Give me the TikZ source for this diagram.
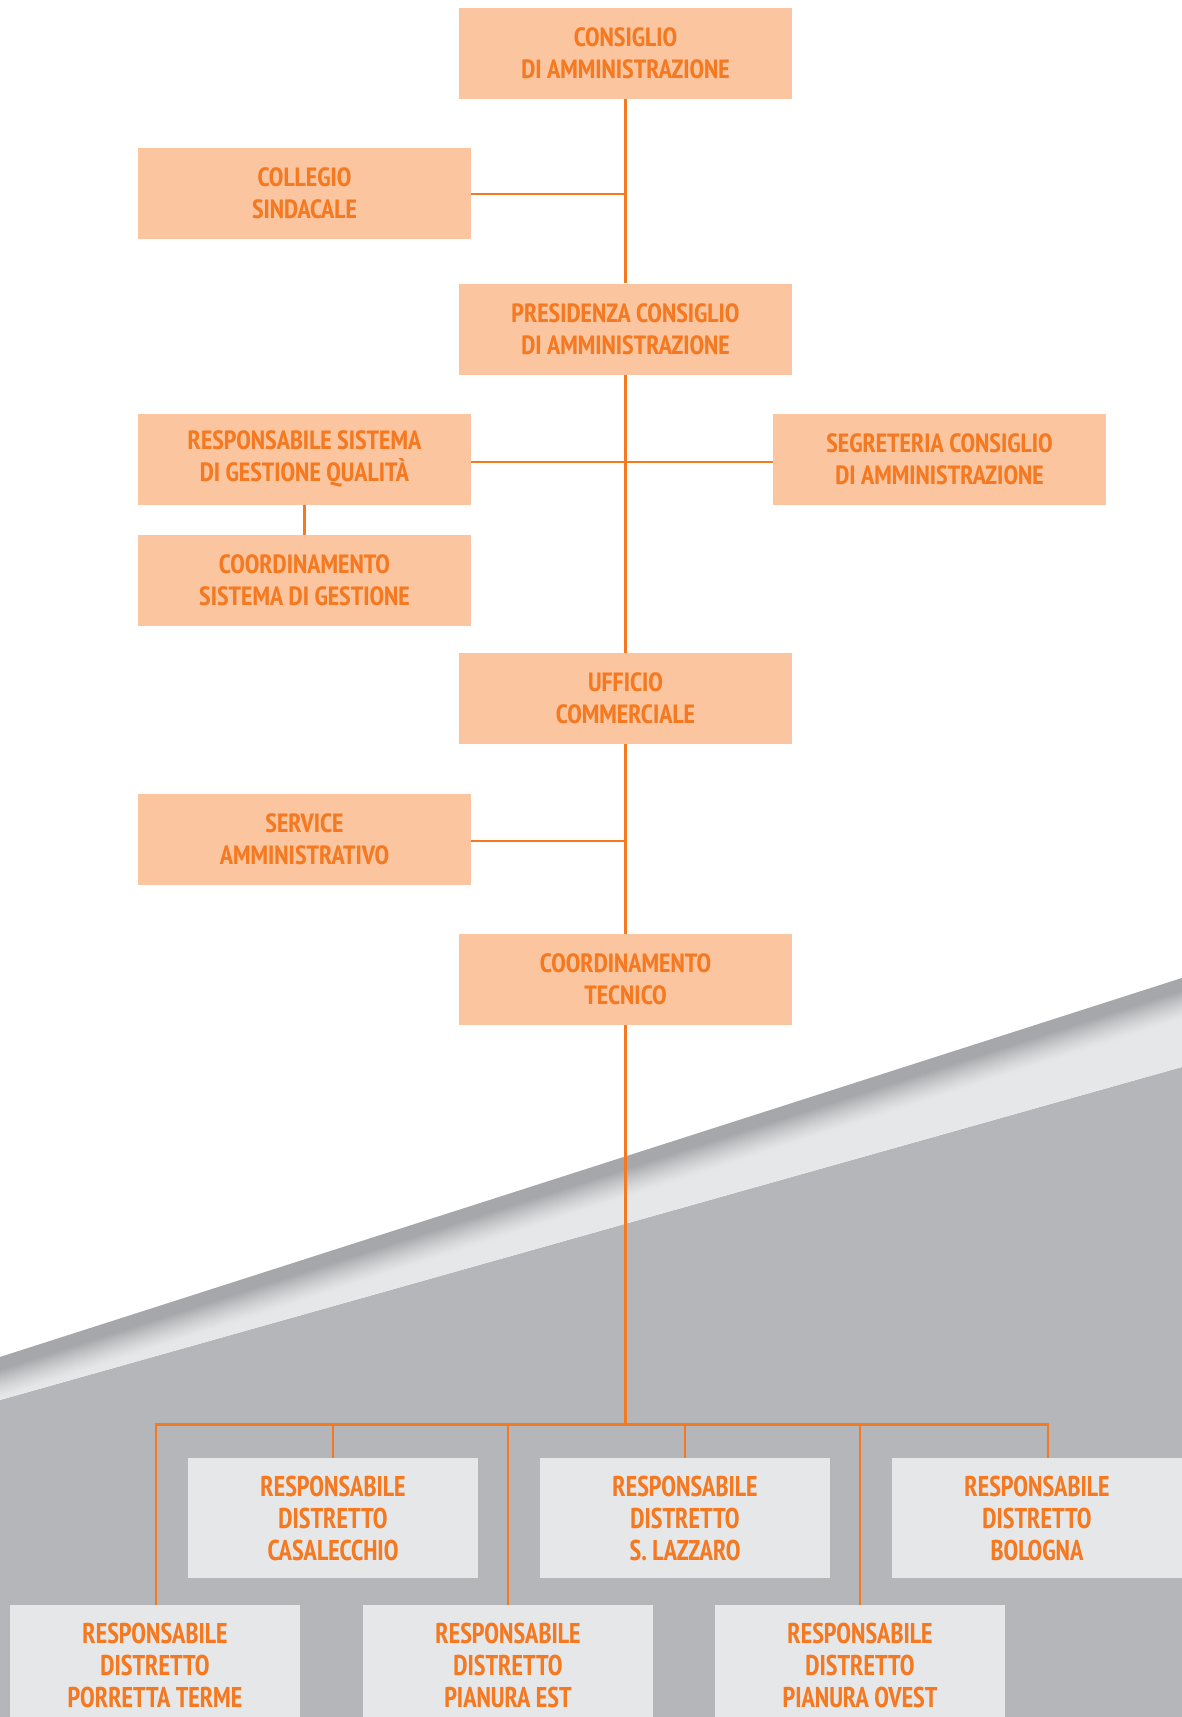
\documentclass[tikz,border=0pt]{standalone}
\usepackage{fontspec}
\newfontfamily\din{PT Sans Narrow}
\newfontfamily\dinN{PT Sans Narrow}[FakeStretch=0.93]
\definecolor{peach}{HTML}{FBC59F}
\definecolor{orangeT}{HTML}{F47920}
\definecolor{lineC}{HTML}{F47920}
\definecolor{bandC}{HTML}{E6E7E9}
\definecolor{grayC}{HTML}{B5B6B9}
\definecolor{shadowC}{HTML}{A6A7AA}
\tikzset{
  box/.style={fill=peach, minimum width=333, minimum height=91, inner sep=0pt,
    align=center, text=orangeT, font=\din\bfseries\fontsize{26.4}{32}\selectfont},
  dbox/.style={fill=bandC, minimum width=290, minimum height=120, inner sep=0pt,
    align=center, text=orangeT, font=\dinN\bfseries\fontsize{28.6}{32}\selectfont},
  conn/.style={draw=lineC, line width=2.3pt}
}
\begin{document}
\begin{tikzpicture}[x=1pt,y=-1pt]
\useasboundingbox (0,0) rectangle (1182,1717);
% background
\fill[white] (0,0) rectangle (1182,1717);
\fill[grayC] (0,1400) -- (1182,1067) -- (1182,1717) -- (0,1717) -- cycle;
\fill[bandC] (0,1357) -- (1182,978) -- (1182,1067) -- (0,1400) -- cycle;
\begin{scope}
\clip (0,1357) -- (1182,978) -- (1182,1067) -- (0,1400) -- cycle;
\foreach \k in {0,...,40} {
  \pgfmathsetmacro\p{\k<12 ? 100 : 100*(1-(\k-12)/29)^1.3}
  \fill[shadowC!\p!bandC] (0,{1357+\k*1.0}) -- (1182,{978+\k*1.0}) -- (1182,{978+\k*1.0+1.6}) -- (0,{1357+\k*1.0+1.6}) -- cycle;
}
\end{scope}

% upper nodes
\node[box] (cda) at (625.5,53.5) {CONSIGLIO\\DI AMMINISTRAZIONE};
\node[box] (col) at (304.5,193.5) {COLLEGIO\\SINDACALE};
\node[box] (pres) at (625.5,329) {PRESIDENZA CONSIGLIO\\DI AMMINISTRAZIONE};
\node[box] (rsq) at (304.5,459) {RESPONSABILE SISTEMA\\DI GESTIONE QUALITÀ};
\node[box] (csg) at (304.5,580.5) {COORDINAMENTO\\SISTEMA DI GESTIONE};
\node[box] (seg) at (939.5,459.5) {SEGRETERIA CONSIGLIO\\DI AMMINISTRAZIONE};
\node[box] (uff) at (625.5,698.5) {UFFICIO\\COMMERCIALE};
\node[box] (ser) at (304.5,839.5) {SERVICE\\AMMINISTRATIVO};
\node[box] (ct) at (625.5,979.5) {COORDINAMENTO\\TECNICO};

% lower nodes
\node[dbox] (cas) at (333,1518) {RESPONSABILE\\DISTRETTO\\CASALECCHIO};
\node[dbox] (laz) at (685,1518) {RESPONSABILE\\DISTRETTO\\S. LAZZARO};
\node[dbox] (bol) at (1037,1518) {RESPONSABILE\\DISTRETTO\\BOLOGNA};
\node[dbox] (por) at (155,1665) {RESPONSABILE\\DISTRETTO\\PORRETTA TERME};
\node[dbox] (pie) at (508,1665) {RESPONSABILE\\DISTRETTO\\PIANURA EST};
\node[dbox] (pio) at (860,1665) {RESPONSABILE\\DISTRETTO\\PIANURA OVEST};

% upper connectors
\coordinate (jcol) at (625,194);
\coordinate (jrsq) at (625,462);
\coordinate (jser) at (625,841);
\draw[conn] (cda.south) -- (pres.north);
\draw[conn] (col.east |- jcol) -- (jcol);
\draw[conn] (pres.south) -- (uff.north);
\draw[conn] (rsq.east |- jrsq) -- (seg.west |- jrsq);
\draw[conn] (rsq.south) -- (csg.north);
\draw[conn] (uff.south) -- (ct.north);
\draw[conn] (ser.east |- jser) -- (jser);

% lower connectors
\coordinate (busL) at (156,1424.5);
\coordinate (busR) at (1048,1424.5);
\draw[conn] (ct.south) -- (ct.south |- busL);
\draw[conn] (busL |- por.north) -- (busL) -- (busR) -- (busR |- bol.north);
\draw[conn] (cas.north) -- (cas.north |- busL);
\draw[conn] (laz.north) -- (laz.north |- busL);
\draw[conn] (pie.north) -- (pie.north |- busL);
\draw[conn] (pio.north) -- (pio.north |- busL);
\end{tikzpicture}
\end{document}
